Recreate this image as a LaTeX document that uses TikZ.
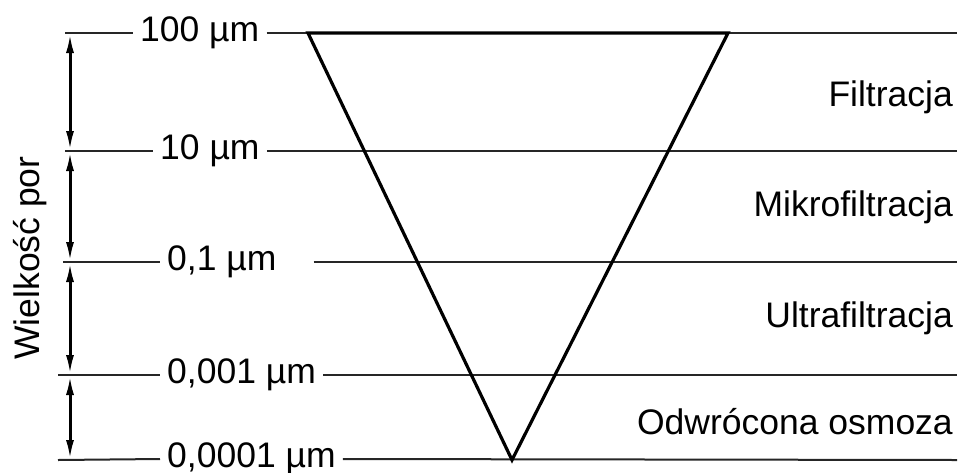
\documentclass[tikz,border=0pt]{standalone}
\usepackage{fontspec}
\setmainfont{Liberation Sans}
\usetikzlibrary{arrows.meta, positioning}

\begin{document}
\begin{tikzpicture}[x=1pt, y=-1pt,
    poziom/.style={line width=2pt, black!85},
    etykieta/.style={font=\fontsize{35.5}{40}\selectfont, inner xsep=7pt, inner ysep=0pt},
    proces/.style={font=\fontsize{35.5}{40}\selectfont, inner sep=0pt, anchor=east},
    strzalka/.style={{Latex[length=20pt,width=8pt]}-{Latex[length=20pt,width=8pt]}, line width=3pt}]
  \useasboundingbox (0,0) rectangle (961,472);

  % Etykiety wielkości porów
  \node[etykieta, anchor=west] (e1) at (133,33) {100 µm};
  \node[etykieta, anchor=west] (e2) at (153,151) {10 µm};
  \node[etykieta, anchor=west] (e3) at (160,262) {0,1 µm};
  \node[etykieta, anchor=west] (e4) at (160,375) {0,001 µm};
  \node[etykieta, anchor=west] (e5) at (160,459) {0,0001 µm};

  % Końce linii poziomych
  \coordinate (l1) at (65,33);   \coordinate (p1) at (957,33);
  \coordinate (l2) at (65,151);  \coordinate (p2) at (957,151);
  \coordinate (l3) at (63,262);  \coordinate (p3) at (957,262);
  \coordinate (l4) at (58,375);  \coordinate (p4) at (957,375);
  \coordinate (l5) at (58,460);  \coordinate (p5) at (957,460);

  % Linie poziome
  \draw[poziom] (l1) -- (e1.west);  \draw[poziom] (e1.east) -- (p1);
  \draw[poziom] (l2) -- (e2.west);  \draw[poziom] (e2.east) -- (p2);
  \draw[poziom] (l3) -- (e3.west);  \draw[poziom] ([xshift=30pt]e3.east) -- (p3);
  \draw[poziom] (l4) -- (e4.west);  \draw[poziom] (e4.east) -- (p4);
  \draw[poziom] (l5) -- (e5.west);  \draw[poziom] (e5.east) -- (p5);

  % Trójkąt
  \coordinate (t1) at (308,33);
  \coordinate (t2) at (728,33);
  \coordinate (t3) at (512,460);
  \draw[line width=3.2pt, line join=miter] (t1) -- (t3) -- (t2) -- cycle;

  % Strzałki wielkości porów
  \coordinate (s1) at (70,33);
  \coordinate (s2) at (70,151);
  \coordinate (s3) at (70,262);
  \coordinate (s4) at (70,375);
  \coordinate (s5) at (70,460);
  \draw[strzalka] (s1) -- (s2);
  \draw[strzalka] (s2) -- (s3);
  \draw[strzalka] (s3) -- (s4);
  \draw[strzalka] (s4) -- (s5);
  \node[etykieta, rotate=90, inner sep=0pt] (os) at (30,258) {Wielkość por};

  % Procesy
  \node[proces] (filtr) at (953,97) {Filtracja};
  \node[proces] (mikro) at (953,207) {Mikrofiltracja};
  \node[proces] (ultra) at (953,318) {Ultrafiltracja};
  \node[proces] (osmo) at (953,422) {Odwrócona osmoza};
\end{tikzpicture}
\end{document}
